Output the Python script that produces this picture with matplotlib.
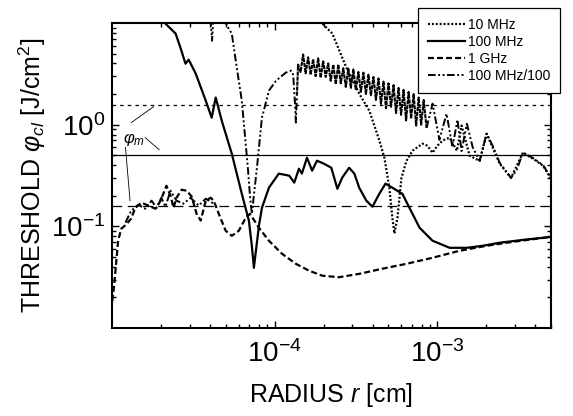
import numpy as np
import matplotlib
matplotlib.use("Agg")
import matplotlib.pyplot as plt

plt.rcParams['font.family'] = ['Liberation Sans', 'DejaVu Sans']
plt.rcParams['mathtext.fontset'] = 'custom'
plt.rcParams['mathtext.rm'] = 'Liberation Sans'
plt.rcParams['mathtext.it'] = 'Liberation Sans:italic'
plt.rcParams['lines.scale_dashes'] = False

# 10 MHz (dotted)
r_10m = [1.90e-4, 1.96e-4, 2.26e-4, 2.76e-4, 3.31e-4, 3.82e-4, 4.40e-4, 4.73e-4,
         5.07e-4, 5.29e-4, 5.45e-4, 5.69e-4, 6.02e-4, 6.46e-4, 7.04e-4, 8.11e-4,
         8.70e-4, 9.35e-4, 1.00e-3, 1.08e-3, 1.19e-3, 1.32e-3, 1.41e-3, 1.58e-3,
         1.82e-3, 2.01e-3, 2.42e-3, 2.84e-3, 3.36e-3, 3.87e-3, 4.47e-3, 5.0e-3]
phi_10m = [10.5, 9.9, 7.9, 3.64, 2.02, 1.37, 0.70, 0.47,
           0.24, 0.122, 0.085, 0.122, 0.30, 0.44, 0.555, 0.65,
           0.62, 0.53, 0.62, 0.70, 0.745, 0.555, 0.98, 0.495,
           0.44, 0.815, 0.413, 0.30, 0.53, 0.463, 0.395, 0.294]

# 100 MHz (solid)
r_100m = [2.10e-5, 2.46e-5, 2.63e-5, 2.83e-5, 2.96e-5, 3.27e-5, 3.77e-5, 4.10e-5,
          4.34e-5, 4.73e-5, 5.45e-5, 6.28e-5, 6.94e-5, 7.24e-5, 7.45e-5, 7.67e-5,
          8.00e-5, 8.35e-5, 9.22e-5, 1.06e-4, 1.23e-4, 1.32e-4, 1.41e-4, 1.47e-4,
          1.58e-4, 1.70e-4, 1.82e-4, 2.01e-4, 2.23e-4, 2.43e-4, 2.60e-4, 2.87e-4,
          3.09e-4, 3.31e-4, 3.66e-4, 3.99e-4, 4.40e-4, 4.80e-4, 5.29e-4, 6.10e-4,
          6.74e-4, 7.78e-4, 9.35e-4, 1.19e-3, 1.52e-3, 1.90e-3, 2.42e-3, 3.46e-3,
          5.0e-3]
phi_100m = [10.1, 7.87, 5.77, 3.98, 4.36, 3.18, 1.72, 1.17,
            1.85, 1.09, 0.518, 0.209, 0.114, 0.0644, 0.0391, 0.0575,
            0.101, 0.152, 0.240, 0.330, 0.315, 0.269, 0.369, 0.330,
            0.473, 0.353, 0.442, 0.413, 0.377, 0.234, 0.301, 0.377,
            0.330, 0.240, 0.179, 0.156, 0.209, 0.263, 0.240, 0.209,
            0.152, 0.0969, 0.0722, 0.0615, 0.0615, 0.0644, 0.069, 0.074,
            0.0787]

# 1 GHz (dashed)
r_1g = [1.005e-5, 1.03e-5, 1.07e-5, 1.09e-5, 1.14e-5, 1.22e-5, 1.31e-5, 1.39e-5,
        1.52e-5, 1.67e-5, 1.85e-5, 1.99e-5, 2.16e-5, 2.29e-5, 2.39e-5, 2.49e-5,
        2.68e-5, 2.88e-5, 3.09e-5, 3.31e-5, 3.51e-5, 3.77e-5, 4.04e-5, 4.22e-5,
        4.53e-5, 5.00e-5, 5.45e-5, 6.02e-5, 6.65e-5, 7.05e-5, 8.00e-5, 9.22e-5,
        1.11e-4, 1.35e-4, 1.63e-4, 1.96e-4, 2.49e-4, 3.31e-4, 4.59e-4, 6.46e-4,
        9.35e-4, 1.37e-3, 2.01e-3, 2.92e-3, 5.0e-3]
phi_1g = [0.0185, 0.026, 0.0514, 0.0722, 0.0947, 0.104, 0.119, 0.152,
          0.171, 0.160, 0.149, 0.179, 0.251, 0.200, 0.152, 0.191,
          0.229, 0.224, 0.196, 0.133, 0.114, 0.179, 0.191, 0.179,
          0.133, 0.0905, 0.0807, 0.0905, 0.122, 0.133, 0.0969, 0.0722,
          0.0537, 0.0428, 0.0366, 0.0327, 0.0316, 0.0341, 0.0383, 0.0428,
          0.0491, 0.0575, 0.0644, 0.0705, 0.0787]

# 100 MHz/100 (dash-dot), pieces separated by nan
r_low = [1.21e-5, 1.31e-5, 1.45e-5, 1.60e-5, 1.75e-5, 1.88e-5, 2.01e-5, 2.13e-5,
         2.29e-5, 2.49e-5, 2.75e-5, 3.04e-5, 3.41e-5, 3.77e-5, 4.22e-5]
phi_low = [0.109, 0.142, 0.163, 0.149, 0.179, 0.152, 0.191, 0.156,
           0.224, 0.179, 0.167, 0.191, 0.160, 0.187, 0.167]
r_spike = [4.03e-5, 4.12e-5, 4.20e-5]
phi_spike = [11.0, 6.7, 11.0]
r_dip = [4.93e-5, 5.08e-5, 5.45e-5, 5.85e-5, 6.28e-5, 6.84e-5, 7.05e-5, 7.24e-5,
         7.78e-5, 8.35e-5, 9.22e-5, 1.02e-4, 1.17e-4, 1.26e-4, 1.30e-4, 1.33e-4,
         1.35e-4, 1.37e-4]
phi_dip = [11.3, 9.42, 7.87, 3.64, 1.72, 0.377, 0.200, 0.133,
           0.377, 1.17, 2.16, 2.71, 3.25, 3.40, 3.10, 1.72,
           1.05, 1.93]
# rapidly oscillating band, r in units of 1e-4 cm
r_band = [1.37, 1.393, 1.443, 1.496, 1.550, 1.606, 1.664, 1.724, 1.787, 1.851, 1.918,
          1.988, 2.060, 2.134, 2.211, 2.292, 2.375, 2.461, 2.550, 2.642, 2.738,
          2.837, 2.940, 3.046, 3.156, 3.271, 3.389, 3.512, 3.639, 3.770, 3.907,
          4.048, 4.195, 4.347, 4.504, 4.667, 4.836, 5.011, 5.193, 5.381, 5.575,
          5.777, 5.987, 6.203, 6.428, 6.661, 6.902, 7.152, 7.411, 7.679, 7.957,
          8.245, 8.59]
phi_band = [1.93, 3.9, 3.3, 4.9, 3.2, 4.6, 3.1, 4.4, 3.0, 4.5, 2.9,
            4.2, 2.95, 4.0, 2.7, 3.9, 2.5, 3.9, 2.55, 3.6, 2.35,
            3.55, 2.3, 3.5, 2.2, 3.3, 2.1, 3.25, 2.0, 3.1, 1.95,
            2.95, 1.75, 2.85, 1.6, 2.65, 1.45, 2.55, 1.5, 2.45, 1.3,
            2.3, 1.25, 2.2, 1.1, 2.1, 1.15, 2.0, 0.98, 1.85, 1.0,
            1.75, 0.93]
r_tail = [8.59e-4, 9.35e-4, 1.03e-3, 1.14e-3, 1.24e-3, 1.33e-3, 1.41e-3, 1.52e-3,
          1.65e-3, 1.82e-3, 2.01e-3, 2.19e-3, 2.42e-3, 2.84e-3, 3.08e-3, 3.36e-3,
          3.87e-3, 4.47e-3, 5.0e-3]
phi_tail = [0.93, 1.61, 0.71, 1.28, 0.60, 1.12, 0.55, 1.02,
            0.60, 0.44, 0.815, 0.62, 0.42, 0.30, 0.36, 0.53,
            0.47, 0.40, 0.30]

# phi_m levels
phim_10m = 1.57
phim_100m = 0.503
phim_1g = 0.16

r_dd = r_low + [np.nan] + r_spike + [np.nan] + r_dip + [np.nan] + r_tail
phi_dd = phi_low + [np.nan] + phi_spike + [np.nan] + phi_dip + [np.nan] + phi_tail

fig = plt.figure(figsize=(5.73, 4.16), dpi=100)
ax = fig.add_axes([0.1955, 0.2115, 0.7661, 0.7332])

dot = (0, (1.4, 1.4))
dash = (0, (4.3, 2.2))
dashdot = (0, (5.5, 1.8, 1.4, 1.8, 1.4, 1.8))

ax.axhline(phim_10m, color='k', lw=0.9, ls=(0, (2.5, 3.0)))
ax.axhline(phim_100m, color='k', lw=0.9)
ax.axhline(phim_1g, color='k', lw=0.9, ls=(0, (7, 4)))

l1, = ax.plot(r_10m, phi_10m, color='k', lw=1.6, ls=dot)
l2, = ax.plot(r_100m, phi_100m, color='k', lw=1.6)
l3, = ax.plot(r_1g, phi_1g, color='k', lw=1.6, ls=dash)
l4, = ax.plot(r_dd, phi_dd, color='k', lw=1.4, ls=dashdot)
ax.plot(np.array(r_band) * 1e-4, phi_band, color='k', lw=1.5, ls=(0, (3, 0.6)))

ax.set_xscale('log')
ax.set_yscale('log')
ax.set_xlim(1e-5, 5e-3)
ax.set_ylim(1e-2, 10)
ax.set_xticks([1e-4, 1e-3])
ax.set_xticklabels(['$10^{-4}$', '$10^{-3}$'])
ax.set_yticks([1e-1, 1])
ax.set_yticklabels(['$10^{-1}$', '$10^{0}$'])
ax.tick_params(which='both', direction='in', top=True, right=True, width=1.0)
ax.tick_params(which='major', length=5, labelsize=20)
ax.tick_params(axis='x', which='major', pad=9)
ax.tick_params(axis='y', which='major', pad=5)
ax.tick_params(which='minor', length=2.8)
for s in ax.spines.values():
    s.set_linewidth(1.5)

ax.set_xlabel('RADIUS $r$ [cm]', fontsize=18, labelpad=9)
ax.set_ylabel('THRESHOLD $\\varphi_{cl}$ [J/cm$^2$]', fontsize=18, labelpad=2)

# phi_m label with pointer lines
ax.text(1.16e-5, 0.711, '$\\varphi_m$', fontsize=12, ha='left', va='center')
ax.plot([1.315e-5, 1.80e-5], [1.05, 1.50], color='k', lw=0.6)
ax.plot([1.60e-5, 1.95e-5], [0.745, 0.567], color='k', lw=0.6)
ax.plot([1.21e-5, 1.29e-5], [0.598, 0.179], color='k', lw=0.6)

leg = fig.legend([l1, l2, l3, l4], ['10 MHz', '100 MHz', '1 GHz', '100 MHz/100'],
                 loc='upper left', bbox_to_anchor=(418 / 573, 1 - 8 / 416),
                 bbox_transform=fig.transFigure, fontsize=10, frameon=True,
                 fancybox=False, framealpha=1, edgecolor='k', borderaxespad=0,
                 handlelength=2.7, handletextpad=0.2, labelspacing=0.22,
                 borderpad=0.7)
leg.get_frame().set_linewidth(0.9)

fig.savefig('out.png', dpi=100)
